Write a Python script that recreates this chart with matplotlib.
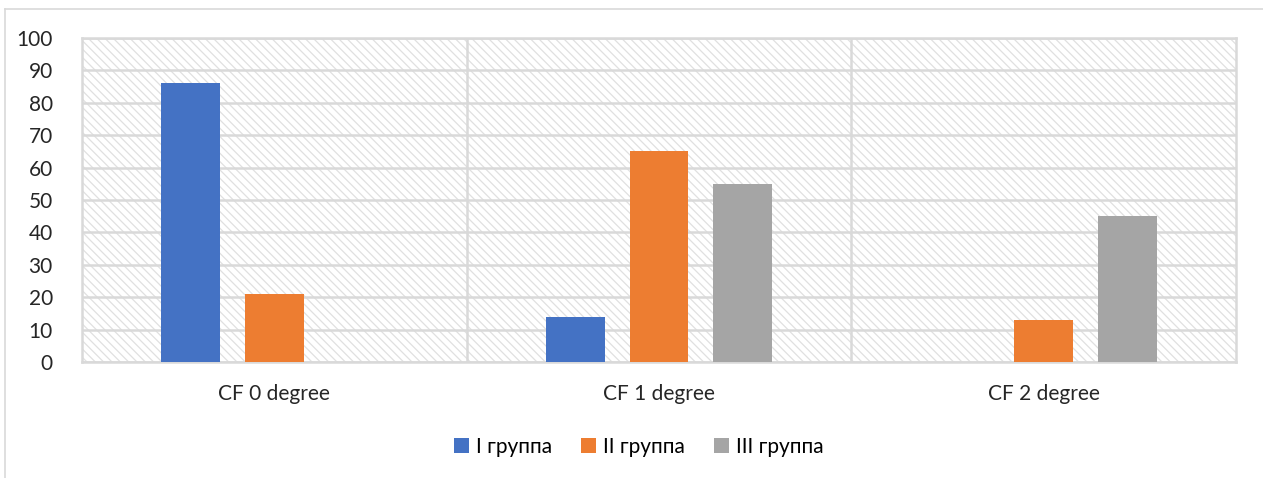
import matplotlib.pyplot as plt
import numpy as np
from matplotlib.patches import Rectangle
from matplotlib.lines import Line2D

plt.rcParams['font.family'] = ['Lato', 'DejaVu Sans']
plt.rcParams['hatch.linewidth'] = 0.9

categories = ["CF 0 degree", "CF 1 degree", "CF 2 degree"]
series_names = ["I группа", "II группа", "III группа"]
group1 = [86, 14, 0]
group2 = [21, 65, 13]
group3 = [0, 55, 45]
colors = ["#4472c4", "#ed7d31", "#a5a5a5"]

fig = plt.figure(figsize=(12.63, 4.78), dpi=100)
ax = fig.add_axes([0.0649, 0.2427, 0.9137, 0.6778])

grid_c = "#d9d9d9"

# hatched plot area background
ax.add_patch(Rectangle((0, 0), 1, 1, transform=ax.transAxes, fill=False,
                       hatch="\\\\\\\\", edgecolor="#e0e0e0", lw=0, zorder=0))

x = np.arange(len(categories))
offset = 0.218
width = 0.153
for i, (vals, name) in enumerate(zip([group1, group2, group3], series_names)):
    ax.bar(x + (i - 1) * offset, vals, width, color=colors[i], label=name, zorder=3)

ax.set_xlim(-0.5, 2.5)
ax.set_ylim(0, 100)
ax.set_yticks(np.arange(0, 101, 10))
ax.set_xticks(x)
ax.set_xticklabels(categories)
ax.tick_params(axis='both', length=0, labelsize=15, colors="#262626")
ax.tick_params(axis='x', pad=16)
ax.tick_params(axis='y', pad=21)
for lab in ax.get_yticklabels():
    lab.set_horizontalalignment('right')

ax.yaxis.grid(True, color=grid_c, lw=1.8, zorder=1)
for xv in [0.5, 1.5]:
    ax.axvline(xv, color=grid_c, lw=1.8, zorder=1)
for s in ax.spines.values():
    s.set_color(grid_c)
    s.set_linewidth(1.8)

fig.legend(loc='center', bbox_to_anchor=(0.506, 0.065), ncol=3, frameon=False,
           fontsize=15, handlelength=0.7, handleheight=0.7, handletextpad=0.35,
           columnspacing=1.4)

# outer chart frame
fig.add_artist(Line2D([0.004, 1.0], [0.981, 0.981], color="#d9d9d9", lw=1.2,
                      transform=fig.transFigure))
fig.add_artist(Line2D([0.004, 0.004], [0.0, 0.981], color="#d9d9d9", lw=1.2,
                      transform=fig.transFigure))

fig.savefig("out.png", dpi=100)
